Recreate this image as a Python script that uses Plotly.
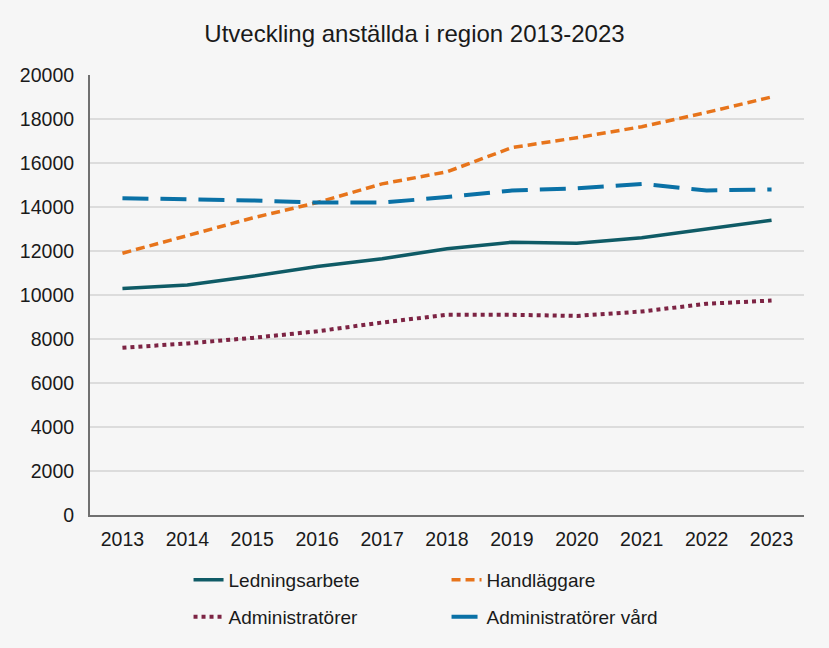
import plotly.graph_objects as go

years = ["2013", "2014", "2015", "2016", "2017", "2018", "2019", "2020", "2021", "2022", "2023"]
ledningsarbete = [10300, 10450, 10850, 11300, 11650, 12100, 12400, 12350, 12600, 13000, 13400]
handlaggare = [11900, 12700, 13500, 14200, 15050, 15600, 16700, 17150, 17650, 18300, 19000]
administratorer = [7600, 7800, 8050, 8350, 8750, 9100, 9100, 9050, 9250, 9600, 9750]
admin_vard = [14400, 14350, 14300, 14200, 14200, 14450, 14750, 14850, 15050, 14750, 14800]

bg = "#f6f6f6"
fig = go.Figure()
fig.add_trace(go.Scatter(x=years, y=ledningsarbete, name="Ledningsarbete", mode="lines",
                         line=dict(color="#0f5b66", width=3.5), legend="legend"))
fig.add_trace(go.Scatter(x=years, y=handlaggare, name="Handläggare", mode="lines",
                         line=dict(color="#e7741b", width=3.5, dash="9px,5px"), legend="legend"))
fig.add_trace(go.Scatter(x=years, y=administratorer, name="Administratörer", mode="lines",
                         line=dict(color="#7d2444", width=4, dash="dot"), legend="legend2"))
fig.add_trace(go.Scatter(x=years, y=admin_vard, name="Administratörer vård", mode="lines",
                         line=dict(color="#0a71a6", width=4, dash="26px,12px"), legend="legend2"))

leg_common = dict(orientation="h", x=0.138, xanchor="left", yanchor="middle",
                  entrywidth=213, entrywidthmode="pixels", bgcolor="rgba(0,0,0,0)",
                  font=dict(size=19, color="#1a1a1a"))

fig.update_layout(
    width=829, height=648,
    paper_bgcolor=bg, plot_bgcolor=bg,
    margin=dict(l=90, r=25, t=75, b=133),
    font=dict(family="Liberation Sans, Arial, sans-serif", size=19, color="#1a1a1a"),
    title=dict(text="Utveckling anställda i region 2013-2023", x=0.5, xanchor="center",
               y=0.948, yanchor="middle", font=dict(size=24, color="#1a1a1a")),
    xaxis=dict(type="category", range=[-0.5, 10.5], showgrid=False, showline=True,
               linecolor="#707070", linewidth=2, ticks="", tickfont=dict(size=19.5),
               ticklabelstandoff=6),
    yaxis=dict(range=[0, 20000], dtick=2000, tickformat="d", showgrid=True,
               gridcolor="#dcdcdc", gridwidth=1.5,
               showline=True, linecolor="#707070", linewidth=2, ticks="", zeroline=False,
               tickfont=dict(size=19.5), ticklabelstandoff=10),
    legend=dict(leg_common, y=-(580 - 515) / 440),
    legend2=dict(leg_common, y=-(617 - 515) / 440),
    showlegend=True,
)
fig.write_html("out.html", config={"displayModeBar": False},
               post_script="document.body.style.margin='0';document.body.style.background='%s';" % bg)
